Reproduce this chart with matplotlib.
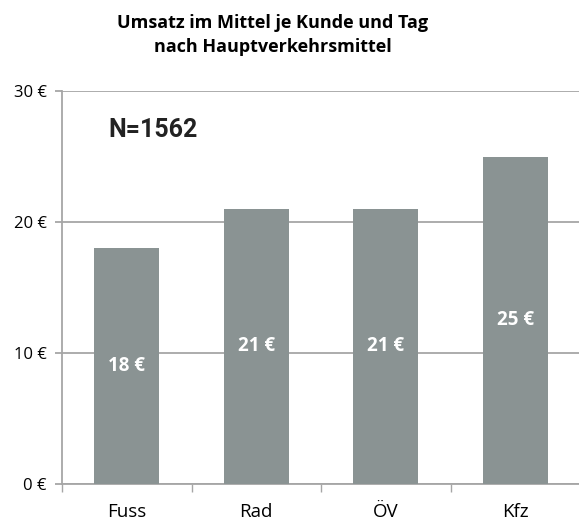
import matplotlib
matplotlib.use("Agg")
import matplotlib.pyplot as plt

categories = ["Fuss", "Rad", "ÖV", "Kfz"]
values = [18, 21, 21, 25]
yticks = [0, 10, 20, 30]
ytick_labels = ["0 €", "10 €", "20 €", "30 €"]
title = "Umsatz im Mittel je Kunde und Tag\nnach Hauptverkehrsmittel"
note = "N=1562"

W, H = 579, 522
fig = plt.figure(figsize=(W / 100, H / 100), dpi=100)
left, right = 62 / W, 580 / W
bottom, top = 1 - 484 / H, 1 - 91 / H
ax = fig.add_axes([left, bottom, right - left, top - bottom])

bar_color = "#8a9393"
grid_color = "#a6a6a6"
x = list(range(len(categories)))
ax.bar(x, values, width=0.5, color=bar_color, zorder=3)
ax.set_xlim(-0.5, len(categories) - 0.5)
ax.set_ylim(0, 30)

for xi, v in zip(x, values):
    ax.text(xi, v / 2, f"{v} €", ha="center", va="center", color="white",
            fontsize=13.5, fontweight="bold", family="Open Sans", zorder=4)

ax.set_yticks(yticks)
ax.set_yticklabels(ytick_labels, family="Open Sans", fontsize=12)
ax.yaxis.grid(True, color=grid_color, linewidth=1.3, zorder=0)
ax.tick_params(axis="y", length=5, color=grid_color, width=1.3, pad=6)

ax.set_xticks(x)
ax.set_xticklabels(categories, family="Open Sans", fontsize=13.5)
ax.set_xticks([i - 0.5 for i in range(len(categories) + 1)], minor=True)
ax.tick_params(axis="x", which="major", length=0, pad=14)
ax.tick_params(axis="x", which="minor", length=6, color=grid_color, width=1)

for s in ["top", "right"]:
    ax.spines[s].set_visible(False)
ax.spines["left"].set_color(grid_color)
ax.spines["left"].set_linewidth(1.3)
ax.spines["bottom"].set_color(grid_color)
ax.spines["bottom"].set_linewidth(1.3)

ax.text(0.2, 27.0, note, ha="center", va="center", fontsize=18,
        fontweight="bold", family="Roboto", color="#222222")

fig.text(273 / W, 1 - 35 / H, title, ha="center", va="center", fontsize=13,
         fontweight="bold", family="Open Sans", linespacing=1.45)

fig.savefig("out.png", dpi=100)
